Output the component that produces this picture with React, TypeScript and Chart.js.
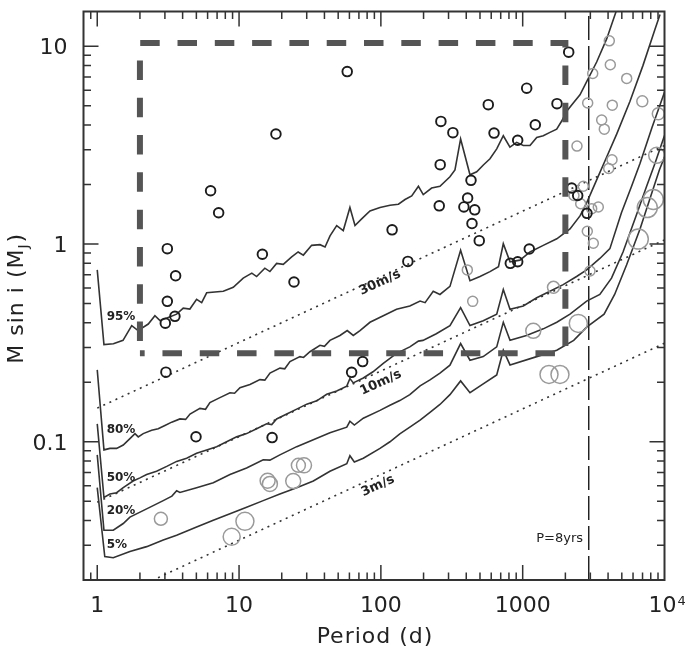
import React, { useEffect, useRef } from "react";
import { Chart, registerables } from "chart.js";

Chart.register(...registerables);

type Pt = [number, number];

// ---------- axes ----------
const xMajorTicks = [1, 10, 100, 1000, 10000];
const xTickLabels = ["1", "10", "100", "1000", "10⁴"];
const yMajorTicks = [0.1, 1, 10];
const yTickLabels = ["0.1", "1", "10"];
const xTitle = "Period (d)";
const yTitleMain = "M sin i (M";
const yTitleSub = "J";
const yTitleEnd = ")";

// ---------- detection-limit curves (period d, M sin i MJ) ----------
const curve95: Pt[] = [
  [1.0, 0.74], [1.115, 0.31], [1.3, 0.313], [1.52, 0.326], [1.75, 0.387], [1.94, 0.365], [2.29, 0.394],
  [2.55, 0.434], [2.77, 0.41], [3.2, 0.427], [3.63, 0.442], [4.04, 0.474], [4.5, 0.469], [5.02, 0.525],
  [5.45, 0.506], [5.91, 0.567], [7.74, 0.577], [9.1, 0.604], [10.7, 0.673], [12.3, 0.713], [13.3, 0.685],
  [15.2, 0.755], [16.5, 0.726], [18.4, 0.798], [20.5, 0.789], [23.5, 0.861], [26.1, 0.912], [28.4, 0.879],
  [32.5, 0.985], [37.2, 0.993], [40.4, 0.966], [43.8, 1.1], [48.8, 1.24], [54.3, 1.17], [60.5, 1.53],
  [65.7, 1.24], [73.2, 1.34], [83.8, 1.47], [98.6, 1.53], [116, 1.57], [133, 1.59], [148, 1.68], [165, 1.75],
  [184, 1.96], [199, 1.78], [228, 1.92], [261, 1.96], [307, 2.19], [333, 2.37], [365, 3.4], [425, 2.24],
  [474, 2.32], [528, 2.51], [588, 2.7], [656, 3.03], [730, 3.53], [813, 3.09], [907, 3.27], [1010, 3.15],
  [1126, 3.15], [1256, 3.46], [1397, 3.53], [1557, 3.67], [1737, 3.81], [1884, 4.19], [2043, 4.7],
  [2274, 5.17], [2535, 5.69], [2826, 6.63], [3324, 8.33], [3910, 10.9], [4600, 15.3],
];
const curve80: Pt[] = [
  [1.0, 0.231], [1.115, 0.091], [1.229, 0.0926], [1.37, 0.0926], [1.525, 0.0963], [1.7, 0.1038],
  [1.845, 0.11], [1.946, 0.1059], [2.11, 0.11], [2.42, 0.1143], [2.69, 0.1165], [3.0, 0.121], [3.35, 0.1257],
  [3.83, 0.1305], [4.2, 0.1298], [4.51, 0.1382], [5.3, 0.1475], [5.8, 0.146], [6.23, 0.158], [7.33, 0.1673],
  [8.63, 0.177], [9.3, 0.176], [10.15, 0.1876], [11.94, 0.1948], [14.04, 0.2062], [15.2, 0.205],
  [16.52, 0.2227], [19.43, 0.2358], [21, 0.234], [22.86, 0.2545], [26.89, 0.2696], [28.5, 0.267],
  [31.62, 0.2854], [37.2, 0.3077], [40, 0.304], [43.75, 0.3258], [51.47, 0.345], [57.9, 0.3653],
  [63.9, 0.345], [71.24, 0.3653], [83.78, 0.4022], [104, 0.4337], [129, 0.4683], [160, 0.4862], [189, 0.5149],
  [205, 0.5054], [234, 0.5772], [261, 0.5559], [307, 0.611], [365, 0.93], [425, 0.6524], [500, 0.6852],
  [588, 0.7255], [675, 0.768], [730, 1.004], [814, 0.8136], [957, 0.8293], [1126, 0.912], [1397, 0.9847],
  [1740, 1.063], [2156, 1.192], [2536, 1.388], [2826, 1.616], [3324, 2.112], [3910, 2.756], [4600, 3.597],
  [5711, 5.27], [7054, 8.01], [8570, 12.19], [9300, 14.47],
];
const curve50: Pt[] = [
  [1.0, 0.1233], [1.115, 0.0523], [1.229, 0.0544], [1.37, 0.0553], [1.525, 0.0586], [1.79, 0.0633],
  [2.0, 0.0657], [2.23, 0.0683], [2.62, 0.071], [3.09, 0.0751], [3.63, 0.0796], [4.27, 0.0826],
  [5.02, 0.0875], [5.91, 0.091], [6.95, 0.0945], [8.17, 0.1], [9.62, 0.1059], [11.3, 0.11], [13.3, 0.1165],
  [15.65, 0.1233], [17, 0.1222], [18.4, 0.1305], [21.7, 0.1382], [25.5, 0.1463], [30, 0.155], [35.3, 0.1611],
  [41.5, 0.1738], [48.8, 0.1806], [57.5, 0.1912], [60.5, 0.209], [63.9, 0.1986], [75.2, 0.2103], [88, 0.226],
  [104, 0.2495], [129, 0.2799], [160, 0.3021], [184, 0.323], [198, 0.3258], [246, 0.3518], [307, 0.3869],
  [365, 0.4775], [425, 0.3869], [527, 0.4097], [656, 0.442], [730, 0.5886], [814, 0.4683], [1010, 0.4862],
  [1256, 0.5353], [1557, 0.5772], [1930, 0.6233], [2400, 0.6852], [2826, 0.7401], [3500, 0.8456],
  [4120, 0.9482], [4970, 1.441], [5850, 1.956], [6717, 2.553], [8163, 3.885], [10000, 5.864],
];
const curve20: Pt[] = [
  [1.0, 0.0859], [1.115, 0.0357], [1.297, 0.0357], [1.525, 0.0386], [1.7, 0.0416], [2.23, 0.0458],
  [2.92, 0.0504], [3.36, 0.0531], [3.63, 0.0565], [3.83, 0.0554], [5.02, 0.0586], [6.58, 0.0621],
  [8.63, 0.0683], [11.3, 0.0737], [14.8, 0.0811], [16.5, 0.0808], [19.4, 0.0859], [25.5, 0.0945],
  [33.4, 0.1025], [43.75, 0.111], [57.5, 0.1185], [60.5, 0.127], [65, 0.1215], [75.2, 0.1316],
  [98.6, 0.1442], [115.9, 0.153], [136, 0.1616], [160, 0.1732], [189, 0.1919], [222, 0.2055], [261, 0.2227],
  [307, 0.244], [365, 0.3138], [425, 0.2584], [527, 0.2696], [656, 0.3021], [730, 0.4022], [814, 0.3258],
  [1064, 0.345], [1397, 0.3725], [1740, 0.4022], [2156, 0.442], [2826, 0.5149], [3500, 0.5559],
  [4230, 0.6727], [5100, 0.912], [6300, 1.388], [7470, 1.956], [8560, 2.553], [10000, 3.544],
];
const curve5: Pt[] = [
  [1.0, 0.0586], [1.13, 0.0263], [1.297, 0.0259], [1.7, 0.0279], [2.23, 0.0295], [2.92, 0.0319],
  [3.63, 0.0337], [5.02, 0.0371], [6.58, 0.0401], [8.63, 0.0433], [11.3, 0.0466], [14.8, 0.0504],
  [19.4, 0.0544], [25.5, 0.0586], [33.4, 0.0633], [43.75, 0.071], [57.5, 0.0775], [60.5, 0.085],
  [65, 0.079], [75.2, 0.0826], [98.6, 0.0926], [115.9, 0.1], [136, 0.1096], [160, 0.1187], [189, 0.1286],
  [222, 0.1409], [261, 0.1544], [307, 0.1732], [365, 0.2032], [425, 0.177], [527, 0.1963], [656, 0.2177],
  [730, 0.2906], [814, 0.2448], [1256, 0.2696], [1740, 0.2906], [2290, 0.3258], [2826, 0.3799],
  [3750, 0.442], [4450, 0.5559], [5400, 0.7834], [6720, 1.192], [7860, 1.68], [9200, 2.367], [10000, 2.756],
];

// ---------- RV semi-amplitude lines, 8-year line, survey box ----------
const rv30: Pt[] = [[1, 0.148], [10000, 3.15]];
const rv10: Pt[] = [[1, 0.0495], [10000, 1.05]];
const rv3: Pt[] = [[1, 0.0148], [10000, 0.315]];
const eightYears: Pt[] = [[2922, 0.02], [2922, 15]];
const surveyBox: Pt[] = [[2, 0.28], [2, 10.4], [2000, 10.4], [2000, 0.28], [2, 0.28]];

// ---------- planets ----------
const blackPlanets: Pt[] = [
  [18.2, 3.6], [6.3, 1.86], [7.18, 1.44], [3.12, 0.948], [14.6, 0.888], [3.57, 0.691], [24.4, 0.643],
  [3.12, 0.513], [3.53, 0.431], [3.02, 0.398], [57.9, 7.45], [2111, 9.34], [1067, 6.14], [572, 5.07],
  [1746, 5.13], [265, 4.17], [322, 3.66], [628, 3.64], [1227, 4.01], [922, 3.35], [262, 2.52], [432, 2.1],
  [120, 1.18], [258, 1.56], [409, 1.71], [385, 1.54], [459, 1.49], [439, 1.27], [494, 1.04], [155, 0.817],
  [1113, 0.944], [818, 0.799], [922, 0.814], [2216, 1.92], [2443, 1.76], [2841, 1.43], [3.05, 0.225],
  [4.97, 0.106], [17.1, 0.105], [62.2, 0.2245], [74.4, 0.2545],
];
const grayPlanets: Pt[] = [
  [4081, 10.66], [3117, 7.29], [4148, 8.07], [5413, 6.88], [2873, 5.17], [4284, 5.04], [6973, 5.27],
  [3606, 4.24], [3763, 3.81], [9045, 4.56], [2415, 3.13], [4264, 2.67], [4042, 2.41], [8810, 2.81],
  [2676, 1.96], [2300, 1.76], [2565, 1.6], [3066, 1.51], [3413, 1.54], [8337, 1.68], [7561, 1.53],
  [2855, 1.16], [3148, 1.01], [6535, 1.06], [407, 0.74], [2983, 0.731], [1649, 0.604], [444, 0.513],
  [1188, 0.364], [2467, 0.397], [1533, 0.219], [1832, 0.219], [2.81, 0.0408], [8.87, 0.0331], [11.0, 0.0396],
  [15.9, 0.0635], [16.5, 0.0612], [24.1, 0.0633], [26.2, 0.076], [28.7, 0.076],
];
const grayMarkerSize = [
  5, 5, 5, 5, 5, 5, 5.5, 5, 5, 6, 5, 5, 5, 8, 5, 5, 5, 5, 5, 10, 10, 5, 5, 10, 5, 5, 6, 5, 7.5, 9,
  9, 9, 6.5, 8.5, 9, 7.5, 7.5, 7.5, 7, 7.5,
];

// ---------- annotations ----------
const pctLabels = ["95%", "80%", "50%", "20%", "5%"];
const pctLabelP = 1.165;
const pctLabelM = [0.427, 0.1154, 0.0655, 0.0449, 0.0301];
const rvLabels = ["30m/s", "10m/s", "3m/s"];
const rvLabelAt: Pt[] = [[98.6, 0.638], [100, 0.199], [95.3, 0.0598]];
const eightYearLabel = "P=8yrs";
const eightYearLabelAt: Pt = [2663, 0.0322];

const toXY = (a: Pt[]) => a.map(([x, y]) => ({ x, y }));
const FONT = '"DejaVu Sans", sans-serif';
const INK = "#222";

const decorPlugin = {
  id: "decor",
  afterDatasetsDraw(chart: any) {
    const { ctx, chartArea: a, scales } = chart;
    const xs = scales.x;
    const ys = scales.y;
    ctx.save();

    // frame
    ctx.strokeStyle = "#333";
    ctx.lineWidth = 2;
    ctx.strokeRect(a.left, a.top, a.right - a.left, a.bottom - a.top);

    // inward ticks on all sides
    ctx.lineWidth = 1.5;
    ctx.beginPath();
    for (let e = -2; e <= 4; e++) {
      for (let m = 1; m <= 9; m++) {
        const v = m * Math.pow(10, e);
        const len = m === 1 ? 15 : 7.5;
        if (v > xs.min * 1.0001 && v < xs.max * 0.9999) {
          const px = xs.getPixelForValue(v);
          ctx.moveTo(px, a.bottom);
          ctx.lineTo(px, a.bottom - len);
          ctx.moveTo(px, a.top);
          ctx.lineTo(px, a.top + len);
        }
        if (v > ys.min * 1.0001 && v < ys.max * 0.9999) {
          const py = ys.getPixelForValue(v);
          ctx.moveTo(a.left, py);
          ctx.lineTo(a.left + len, py);
          ctx.moveTo(a.right, py);
          ctx.lineTo(a.right - len, py);
        }
      }
    }
    ctx.stroke();

    // tick labels
    ctx.fillStyle = INK;
    ctx.font = `22px ${FONT}`;
    ctx.textBaseline = "alphabetic";
    xMajorTicks.forEach((v, i) => {
      const px = xs.getPixelForValue(v);
      const lab = xTickLabels[i];
      if (lab.endsWith("⁴")) {
        const base = lab.slice(0, -1);
        const w = ctx.measureText(base).width;
        ctx.textAlign = "left";
        ctx.fillText(base, px - w / 2 - 2, a.bottom + 32);
        ctx.font = `13px ${FONT}`;
        ctx.fillText("4", px + w / 2 - 1, a.bottom + 25);
        ctx.font = `22px ${FONT}`;
      } else {
        ctx.textAlign = "center";
        ctx.fillText(lab, px, a.bottom + 32);
      }
    });
    ctx.textAlign = "right";
    yMajorTicks.forEach((v, i) => {
      const py = ys.getPixelForValue(v);
      ctx.fillText(yTickLabels[i], a.left - 16, py + 8);
    });

    // axis titles
    ctx.letterSpacing = "1px";
    ctx.textAlign = "center";
    ctx.fillText(xTitle, (a.left + a.right) / 2 + 1, a.bottom + 62.5);

    ctx.save();
    ctx.translate(a.left - 61, (a.top + a.bottom) / 2 + 3);
    ctx.rotate(-Math.PI / 2);
    ctx.textAlign = "left";
    ctx.font = `22px ${FONT}`;
    const w1 = ctx.measureText(yTitleMain).width;
    const w3 = ctx.measureText(yTitleEnd).width;
    ctx.font = `14px ${FONT}`;
    const w2 = ctx.measureText(yTitleSub).width;
    let x0 = -(w1 + w2 + w3) / 2;
    ctx.font = `22px ${FONT}`;
    ctx.fillText(yTitleMain, x0, 0);
    x0 += w1;
    ctx.font = `14px ${FONT}`;
    ctx.fillText(yTitleSub, x0, 5);
    x0 += w2 + 1;
    ctx.font = `22px ${FONT}`;
    ctx.fillText(yTitleEnd, x0, 0);
    ctx.restore();
    ctx.letterSpacing = "0px";

    // percentile labels
    ctx.font = `bold 12px ${FONT}`;
    ctx.textAlign = "left";
    ctx.textBaseline = "middle";
    const lx = xs.getPixelForValue(pctLabelP);
    pctLabels.forEach((t, i) => {
      ctx.fillText(t, lx, ys.getPixelForValue(pctLabelM[i]));
    });

    // RV labels, rotated along the lines
    const rvLines = [rv30, rv10, rv3];
    ctx.font = `bold 13px ${FONT}`;
    ctx.textAlign = "center";
    rvLabels.forEach((t, i) => {
      const ln = rvLines[i];
      const x1 = xs.getPixelForValue(ln[0][0]);
      const y1 = ys.getPixelForValue(ln[0][1]);
      const x2 = xs.getPixelForValue(ln[1][0]);
      const y2 = ys.getPixelForValue(ln[1][1]);
      const ang = Math.atan2(y2 - y1, x2 - x1);
      ctx.save();
      ctx.translate(xs.getPixelForValue(rvLabelAt[i][0]), ys.getPixelForValue(rvLabelAt[i][1]));
      ctx.rotate(ang);
      ctx.fillText(t, 0, 0);
      ctx.restore();
    });

    // 8-year label
    ctx.font = `13px ${FONT}`;
    ctx.textAlign = "right";
    ctx.fillText(
      eightYearLabel,
      xs.getPixelForValue(eightYearLabelAt[0]),
      ys.getPixelForValue(eightYearLabelAt[1])
    );

    ctx.restore();
  },
};

export default function App() {
  const ref = useRef<HTMLCanvasElement | null>(null);

  useEffect(() => {
    if (!ref.current) return;
    const curveDs = (d: Pt[]) => ({
      data: toXY(d),
      showLine: true,
      borderColor: "#333",
      borderWidth: 1.6,
      pointRadius: 0,
      tension: 0,
      fill: false,
    });
    const dottedDs = (d: Pt[]) => ({
      data: toXY(d),
      showLine: true,
      borderColor: "#333",
      borderWidth: 1.6,
      borderDash: [2, 4.7],
      pointRadius: 0,
      fill: false,
    });
    const chart = new Chart(ref.current, {
      type: "scatter",
      data: {
        datasets: [
          {
            data: toXY(surveyBox),
            showLine: true,
            borderColor: "#555",
            borderWidth: 6,
            borderDash: [19.5, 17.8],
            borderDashOffset: 25,
            borderJoinStyle: "miter",
            pointRadius: 0,
            fill: false,
          },
          {
            data: toXY(blackPlanets),
            pointRadius: 4.8,
            pointBorderWidth: 1.9,
            borderColor: "#1c1c1c",
            backgroundColor: "rgba(0,0,0,0)",
            pointBackgroundColor: "rgba(0,0,0,0)",
            pointBorderColor: "#1c1c1c",
          },
          {
            data: toXY(grayPlanets),
            pointRadius: grayMarkerSize,
            pointBorderWidth: 1.5,
            borderColor: "#9a9a9a",
            backgroundColor: "rgba(0,0,0,0)",
            pointBackgroundColor: "rgba(0,0,0,0)",
            pointBorderColor: "#9a9a9a",
          },
          curveDs(curve95),
          curveDs(curve80),
          curveDs(curve50),
          curveDs(curve20),
          curveDs(curve5),
          dottedDs(rv30),
          dottedDs(rv10),
          dottedDs(rv3),
          {
            data: toXY(eightYears),
            showLine: true,
            borderColor: "#222",
            borderWidth: 1.5,
            borderDash: [24, 6],
            pointRadius: 0,
            fill: false,
          },
        ],
      },
      options: {
        responsive: false,
        devicePixelRatio: 1,
        animation: false,
        events: [],
        layout: { padding: { left: 83.5, right: 20.5, top: 2, bottom: 71 } },
        plugins: { legend: { display: false }, tooltip: { enabled: false } },
        scales: {
          x: { type: "logarithmic", min: 0.8, max: 10000, display: false },
          y: { type: "logarithmic", min: 0.02, max: 15, display: false },
        },
      },
      plugins: [decorPlugin],
    } as any);
    return () => chart.destroy();
  }, []);

  return (
    <div style={{ position: "fixed", left: 0, top: 0, width: 685, height: 651, background: "#fff" }}>
      <canvas ref={ref} width={685} height={651} style={{ display: "block", width: 685, height: 651 }} />
    </div>
  );
}
